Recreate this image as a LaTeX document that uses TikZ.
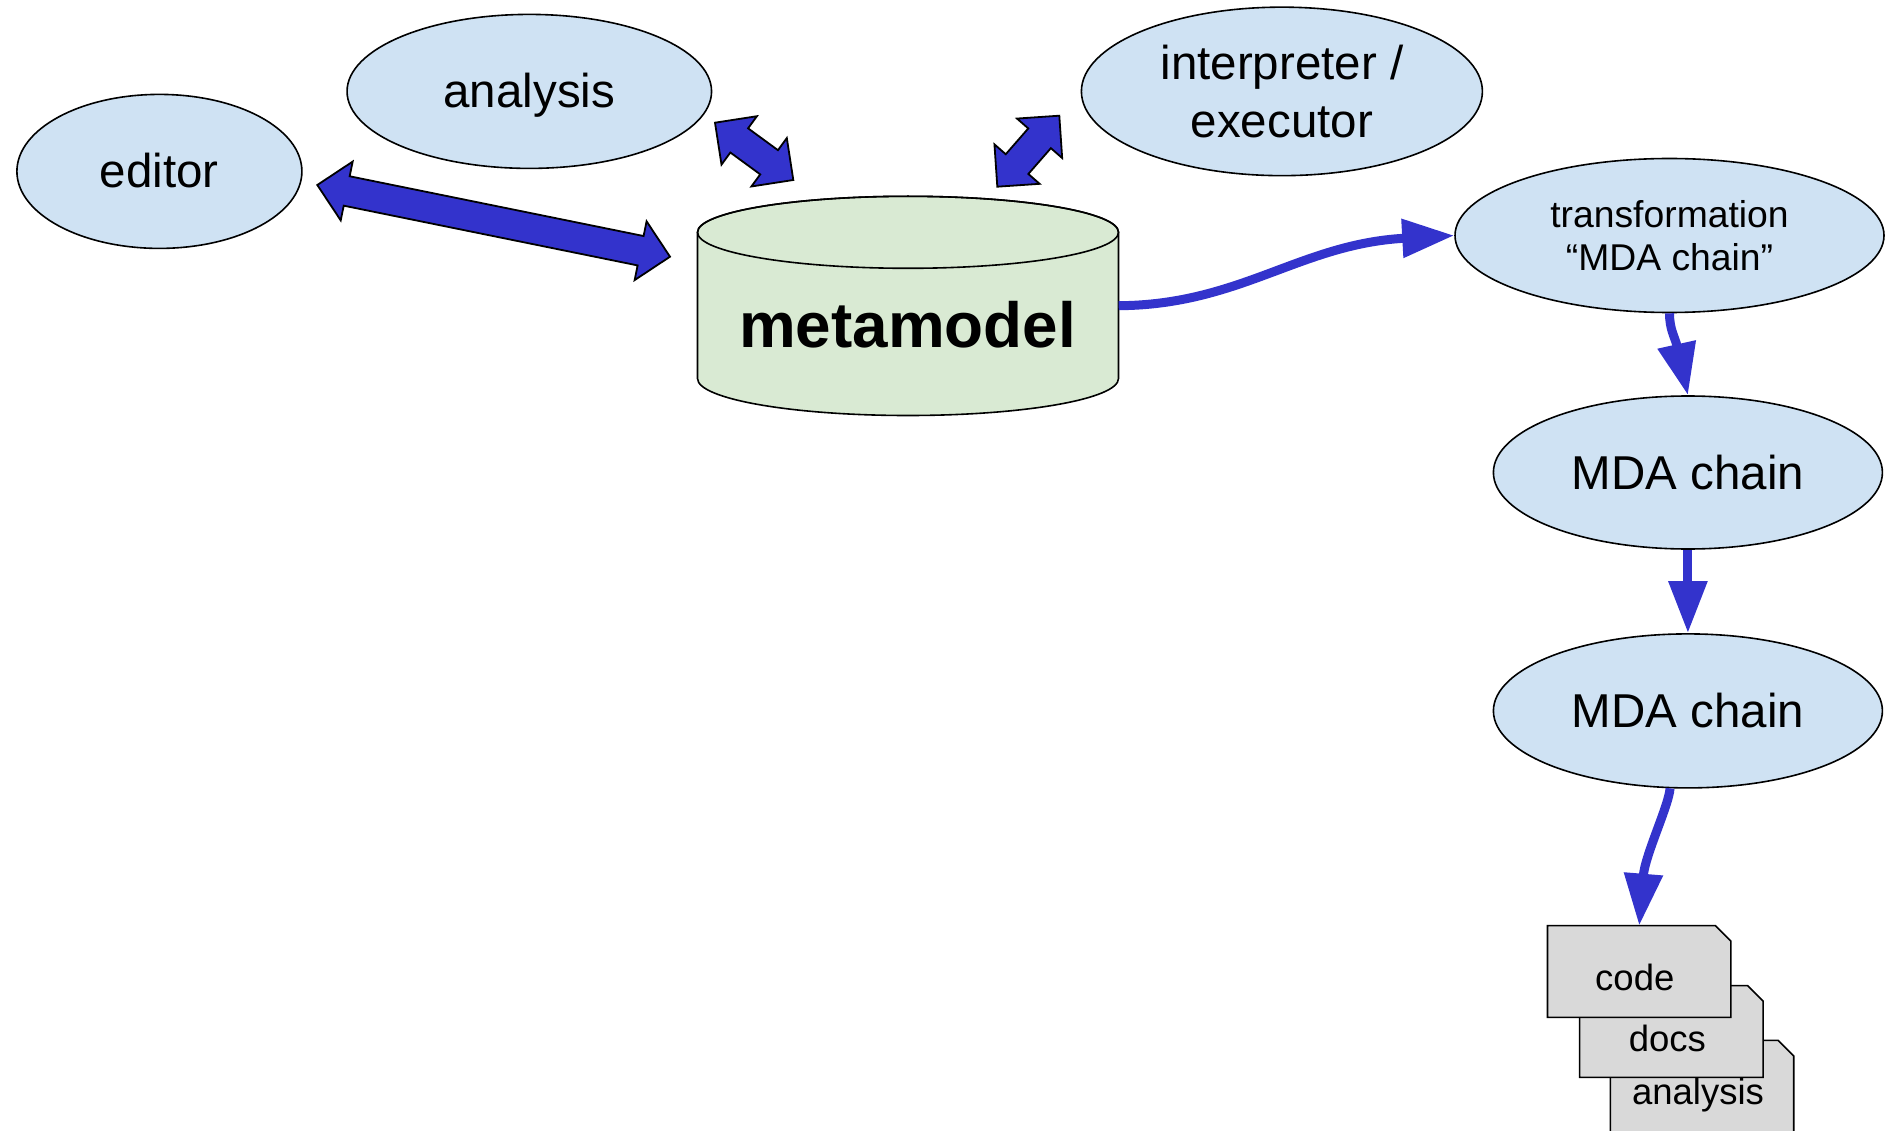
\documentclass[tikz,border=0pt]{standalone}
\usepackage{fontspec}
\setmainfont{Liberation Sans}
\usetikzlibrary{shapes.geometric,arrows.meta,calc}
\definecolor{ellblue}{RGB}{207,226,243}
\definecolor{cylgreen}{RGB}{217,234,211}
\definecolor{docgray}{RGB}{217,217,217}
\definecolor{arrowblue}{RGB}{51,51,204}
\tikzset{
  ell/.style={ellipse, draw=black, line width=1.6pt, fill=ellblue, inner sep=0pt},
  bigtext/.style={font=\fontsize{47.5}{57.6}\selectfont},
  single/.style={bigtext, text height=43pt, text depth=10pt},
  midtext/.style={font=\fontsize{37.3}{42.5}\selectfont},
  doctext/.style={font=\fontsize{36.5}{42}\selectfont, inner sep=0pt, anchor=base},
  metatext/.style={font=\fontsize{63.8}{70}\selectfont\bfseries, inner sep=0pt, anchor=base},
  cylfill/.style={draw=black, line width=1.6pt, fill=cylgreen},
  cylline/.style={draw=black, line width=1.6pt},
  docframe/.style={inner sep=0pt, minimum width=183pt, minimum height=91.3pt},
  docline/.style={draw=black, line width=1.6pt, fill=docgray},
  blockar/.style={draw=black, line width=1.8pt, fill=arrowblue, line join=miter},
  flow/.style={draw=arrowblue, line width=9pt, -{Triangle[length=52pt,width=37pt]}},
}
\newcommand\blockarrow[2]{%
  \coordinate (ba1) at ($(#1)!30pt!(#2)$);
  \coordinate (ba2) at ($(#2)!30pt!(#1)$);
  \draw[blockar] (#1) -- ($(ba1)!30pt!90:(#2)$) -- ($(ba1)!15pt!90:(#2)$)
    -- ($(ba2)!15pt!-90:(#1)$) -- ($(ba2)!30pt!-90:(#1)$) -- (#2)
    -- ($(ba2)!30pt!90:(#1)$) -- ($(ba2)!15pt!90:(#1)$)
    -- ($(ba1)!15pt!-90:(#2)$) -- ($(ba1)!30pt!-90:(#2)$) -- cycle;}
\newcommand\docshape[1]{%
  \draw[docline] (#1.south west) -- (#1.north west) -- ([xshift=-15.5pt]#1.north east)
    -- ([yshift=-15.5pt]#1.north east) -- (#1.south east) -- cycle;}
\begin{document}
\begin{tikzpicture}[x=1pt,y=1pt]
\useasboundingbox (0,0) rectangle (1886,-1131);
\clip (0,0) rectangle (1886,-1131);

% ellipses
\node[ell, single, minimum width=285pt, minimum height=154pt] (editor) at (159.4,-171.4) {editor};
\node[ell, single, minimum width=364.5pt, minimum height=154pt] (analysis) at (529.3,-91.4) {analysis};
\node[ell, bigtext, align=center, minimum width=401pt, minimum height=168.5pt] (interp) at (1281.9,-91.4) {interpreter /\\executor};
\node[ell, midtext, align=center, minimum width=429pt, minimum height=154pt] (trans) at (1669.5,-235.5) {transformation\\“MDA chain”};
\node[ell, single, minimum width=389pt, minimum height=153pt] (mda1) at (1687.9,-472.5) {MDA chain};
\node[ell, single, minimum width=389pt, minimum height=154pt] (mda2) at (1687.9,-710.9) {MDA chain};

% metamodel cylinder
\node[inner sep=0pt, minimum width=421pt, minimum height=219pt] (meta) at (908,-305.7) {};
\draw[cylfill] (697.5,-232.3) -- (697.5,-378.5)
  arc[start angle=180, end angle=360, x radius=210.5, y radius=37]
  -- (1118.5,-232.3)
  arc[start angle=0, end angle=180, x radius=210.5, y radius=36] -- cycle;
\draw[cylline] (908,-232.3) ellipse [x radius=210.5, y radius=36];
\node[metatext] (metalabel) at (907.5,-347.4) {metamodel};

% block double arrows
\coordinate (ed1) at (317.3,-185);
\coordinate (ed2) at (670,-256.7);
\coordinate (an1) at (715,-122.7);
\coordinate (an2) at (793.3,-180);
\coordinate (in1) at (1059.3,-115.7);
\coordinate (in2) at (997.3,-186.7);
\blockarrow{ed1}{ed2}
\blockarrow{an1}{an2}
\blockarrow{in1}{in2}

% output documents
\node[docframe] (docan) at (1702,-1086.2) {};
\docshape{docan}
\node[doctext] (docanT) at (1698,-1104) {analysis};
\node[docframe] (docs) at (1671.35,-1031.5) {};
\docshape{docs}
\node[doctext] (docsT) at (1667.3,-1051.7) {docs};
\node[docframe] (code) at (1639.2,-971.5) {};
\docshape{code}
\node[doctext] (codeT) at (1634.8,-990) {code};

% flow arrows
\draw[flow] (meta.east) .. controls (1240,-305) and (1300,-244) .. (trans.west);
\draw[flow] (trans.south) .. controls (1669.5,-330) and (1675,-337) .. (mda1.north);
\draw[flow] (mda1.south) -- (mda2.north);
\draw[flow] (mda2.-103) .. controls (1669,-805) and (1645,-855) .. (code.north);
\end{tikzpicture}
\end{document}
